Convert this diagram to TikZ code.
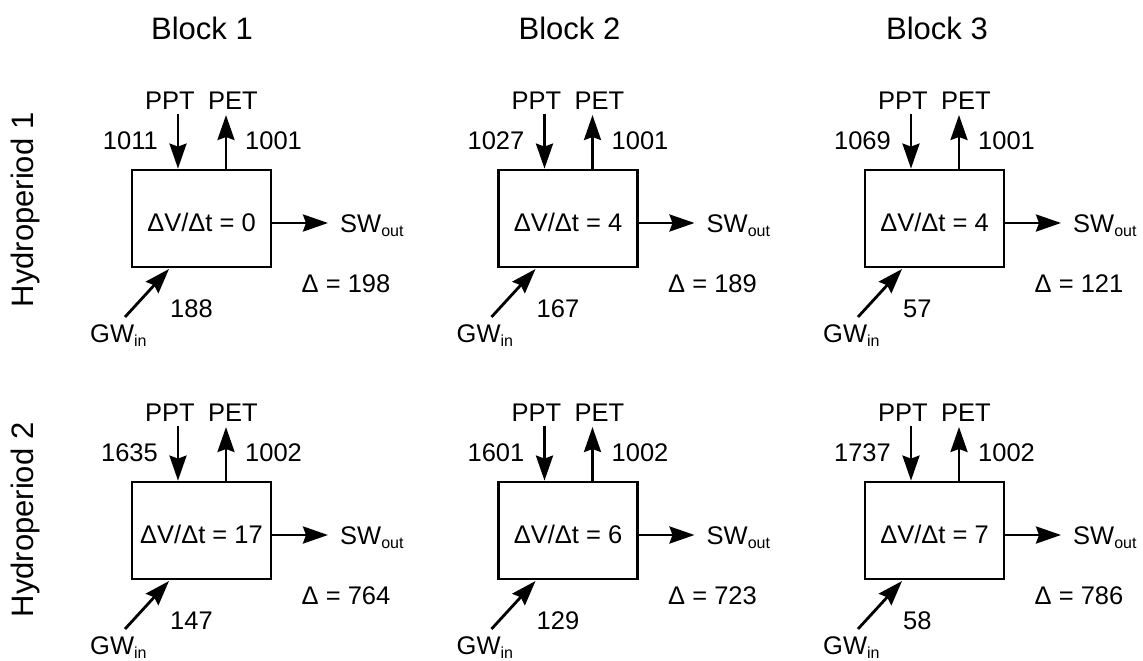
\documentclass[tikz,border=0pt]{standalone}
\usepackage{fontspec}
\setmainfont{Liberation Sans}
\usetikzlibrary{arrows.meta}
\tikzset{
  flow/.style={line width=2.8pt, -{Stealth[length=25pt,width=17pt,inset=3pt]}},
  lbl/.style={inner sep=0pt, font=\fontsize{25.5}{30}\selectfont},
  big/.style={inner sep=0pt, font=\fontsize{31}{36}\selectfont},
  wbox/.style={draw, line width=2.8pt, minimum width=139pt, minimum height=97pt, inner sep=0pt},
}
\newcommand\lowsub[1]{\raisebox{-4pt}{\fontsize{16}{16}\selectfont #1}}
\newcommand\budget[8]{%
 \begin{scope}[shift={(#2,#3)}]
  \node[wbox] (#1box) at (69.5,48.5) {};
  \node[lbl, anchor=base] (#1dv) at (69.5,61.5) {ΔV/Δt = #6};
  \node[lbl, anchor=base] (#1ppt) at (38,-61) {PPT};
  \node[lbl, anchor=base] (#1pet) at (101,-61) {PET};
  \coordinate (#1pptS) at (46,-56);
  \coordinate (#1petE) at (94,-55);
  \draw[flow] (#1pptS) -- (#1box.north -| #1pptS);
  \draw[flow] (#1box.north -| #1petE) -- (#1petE);
  \node[lbl, anchor=base east] (#1pin) at (26,-21) {#4};
  \node[lbl, anchor=base west] (#1pout) at (113,-21) {#5};
  \node[lbl, anchor=base west] (#1sw) at (208,62.5) {SW\lowsub{out}};
  \coordinate (#1swE) at (196,53);
  \draw[flow] (#1box.east |- #1swE) -- (#1swE);
  \node[lbl, anchor=base] (#1d) at (214,122) {Δ = #8};
  \coordinate (#1gwS) at (-7,147);
  \coordinate (#1gwE) at (37,99);
  \draw[flow] (#1gwS) -- (#1gwE);
  \node[lbl, anchor=base west] (#1gwn) at (38,147) {#7};
  \node[lbl, anchor=base west] (#1gw) at (-42,172) {GW\lowsub{in}};
 \end{scope}}
\begin{document}
\begin{tikzpicture}[x=1pt,y=-1pt]
  \useasboundingbox (0,0) rectangle (1143,661);
  \node[big, anchor=base] (t1) at (202,40) {Block 1};
  \node[big, anchor=base] (t2) at (569.5,40) {Block 2};
  \node[big, anchor=base] (t3) at (937,40) {Block 3};
  \node[big, rotate=90] (h1) at (25,210) {Hydroperiod 1};
  \node[big, rotate=90] (h2) at (25,520) {Hydroperiod 2};
  \budget{a}{132}{170}{1011}{1001}{0}{188}{198}
  \budget{b}{498.5}{170}{1027}{1001}{4}{167}{189}
  \budget{c}{865}{170}{1069}{1001}{4}{57}{121}
  \budget{d}{132}{482}{1635}{1002}{17}{147}{764}
  \budget{e}{498.5}{482}{1601}{1002}{6}{129}{723}
  \budget{f}{865}{482}{1737}{1002}{7}{58}{786}
\end{tikzpicture}
\end{document}
